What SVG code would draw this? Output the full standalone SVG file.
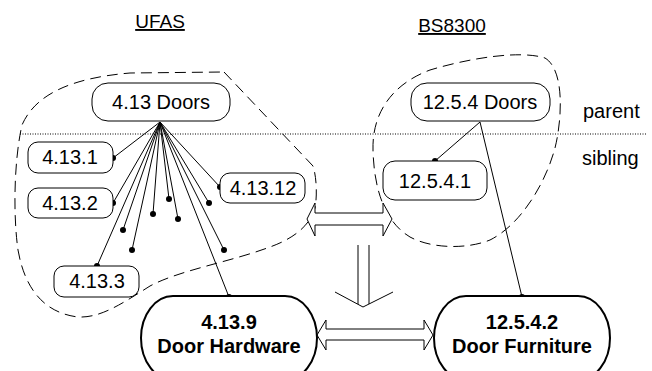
<svg xmlns="http://www.w3.org/2000/svg" width="652" height="371" viewBox="0 0 652 371">
<style>
text{font-family:"Liberation Sans",Arial,sans-serif;fill:#000}
.t{font-size:20px;text-anchor:middle}
.b{font-size:20px;font-weight:bold;text-anchor:middle}
.h{font-size:19px;text-anchor:middle;text-decoration:underline}
.sm{fill:#fff;stroke:#000;stroke-width:1}
.big{fill:#fff;stroke:#000;stroke-width:2}
.blob{fill:none;stroke:#000;stroke-width:1;stroke-dasharray:11 6}
.ln{stroke:#000;stroke-width:1;fill:none}
.dot{fill:#000}
.arr{fill:#fff;stroke:#000;stroke-width:1}
</style>
<rect width="652" height="371" fill="#fff"/>
<text class="h" x="160" y="28">UFAS</text>
<text class="h" x="452" y="32">BS8300</text>
<text x="583" y="118" style="font-size:20px">parent</text>
<text x="582" y="165" style="font-size:20px">sibling</text>
<line x1="20" y1="134" x2="646" y2="134" stroke="#000" stroke-width="1" stroke-dasharray="1 1.5"/>
<path class="blob" d="M224,72 L313,166 C317,178 317,198 315,208 C310,225 295,238 270,247 C230,262 180,270 150,286 C120,305 100,318 78,317 C45,313 25,290 18,250 C13,215 14,160 22,125 C35,95 70,78 130,73 L224,72 Z"/>
<path class="blob" d="M373,150 C372,115 390,85 430,70 C470,58 520,50 545,58 C565,70 562,120 555,148 C545,185 520,225 490,240 C465,250 430,248 410,237 C385,222 374,190 373,150 Z"/>
<g id="connectors">
<path class="ln" d="M160,122 L113,158 M160,122 L113,203 M160,122 L97,266 M160,122 L123,230 M160,122 L132,250 M160,122 L153,214 M160,122 L169,199 M160,122 L178,219 M160,122 L209,203 M160,122 L224,250 M160,122 L220,187 M160,122 L229,297"/>
<path class="ln" d="M480,122 L435,161 M480,122 L522,297"/>
<g class="dot">
<circle cx="113" cy="158" r="3"/><circle cx="113" cy="203" r="3"/><circle cx="97" cy="266" r="3"/>
<circle cx="123" cy="230" r="3"/><circle cx="132" cy="250" r="3"/><circle cx="153" cy="214" r="3"/>
<circle cx="169" cy="199" r="3"/><circle cx="178" cy="219" r="3"/><circle cx="209" cy="203" r="3"/>
<circle cx="224" cy="250" r="3"/><circle cx="220" cy="187" r="3"/><circle cx="229" cy="297" r="3"/>
<circle cx="435" cy="161" r="3"/><circle cx="522" cy="297" r="3"/>
</g>
<polygon class="arr" points="307,219 315,203 315,213 383,213 383,203 392,219 383,236 383,225 315,225 315,236"/>
<polygon class="arr" points="317,335 326,320 326,329 424,329 424,320 433,335 424,350 424,340 326,340 326,350"/>
<path class="ln" d="M358,245 V304 M369,245 V304 M335,292 L363,307 L393,292"/>
</g>
<g id="n-413">
<rect class="sm" x="92" y="83" width="138" height="38" rx="16"/>
<text class="t" x="161" y="109">4.13 Doors</text>
</g>
<g id="n-4131">
<rect class="sm" x="28" y="142" width="85" height="31" rx="10"/>
<text class="t" x="70" y="164">4.13.1</text>
</g>
<g id="n-4132">
<rect class="sm" x="28" y="188" width="85" height="30" rx="10"/>
<text class="t" x="70" y="210">4.13.2</text>
</g>
<g id="n-4133">
<rect class="sm" x="54" y="266" width="85" height="31" rx="10"/>
<text class="t" x="97" y="288">4.13.3</text>
</g>
<g id="n-41312">
<rect class="sm" x="220" y="173" width="85" height="30" rx="10"/>
<text class="t" x="263" y="195">4.13.12</text>
</g>
<g id="n-4139">
<rect class="big" x="141" y="296" width="176" height="84" rx="32" ry="42"/>
<text class="b" x="229" y="329">4.13.9</text>
<text class="b" x="229" y="353">Door Hardware</text>
</g>
<g id="n-1254">
<rect class="sm" x="411" y="83" width="139" height="38" rx="16"/>
<text class="t" x="480" y="109">12.5.4 Doors</text>
</g>
<g id="n-12541">
<rect class="sm" x="383" y="161" width="104" height="39" rx="12"/>
<text class="t" x="435" y="188">12.5.4.1</text>
</g>
<g id="n-12542">
<rect class="big" x="434" y="296" width="176" height="84" rx="32" ry="42"/>
<text class="b" x="522" y="329">12.5.4.2</text>
<text class="b" x="522" y="353">Door Furniture</text>
</g>
</svg>
